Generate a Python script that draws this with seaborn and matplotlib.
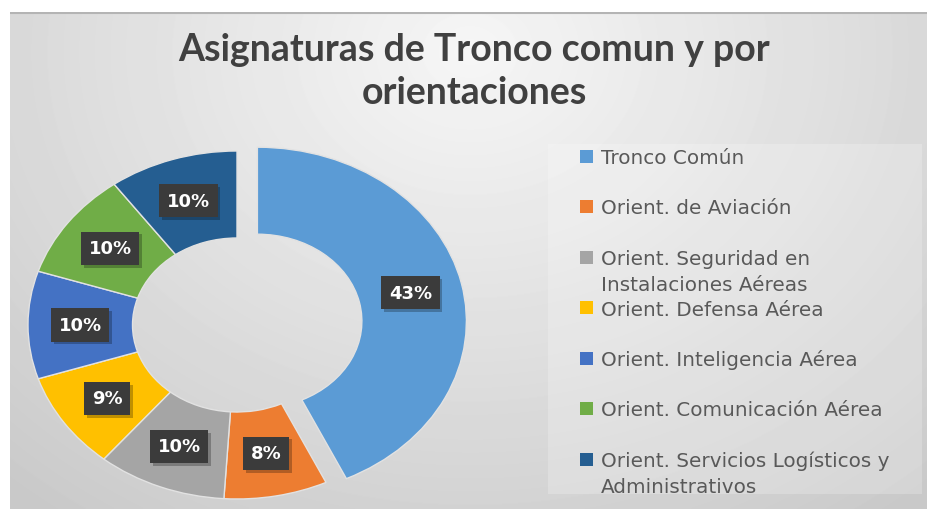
import numpy as np
import matplotlib
matplotlib.use("Agg")
import matplotlib.pyplot as plt
import matplotlib.patheffects as pe
from matplotlib.patches import Rectangle
import seaborn as sns

# Subject shares (percent) per study track
categories = [
    "Tronco Común",
    "Orient. de Aviación",
    "Orient. Seguridad en\nInstalaciones Aéreas",
    "Orient. Defensa Aérea",
    "Orient. Inteligencia Aérea",
    "Orient. Comunicación Aérea",
    "Orient. Servicios Logísticos y\nAdministrativos",
]
shares = [43, 8, 10, 9, 10, 10, 10]
explode = [0.1, 0, 0, 0, 0, 0, 0]
title_lines = ["Asignaturas de Tronco comun y por", "orientaciones"]

sns.set_theme(style="white")
palette = sns.color_palette(
    ["#5B9BD5", "#ED7D31", "#A5A5A5", "#FFC000", "#4472C4", "#70AD47", "#255E91"]
)

W, H = 927, 510
fig = plt.figure(figsize=(W / 100, H / 100), dpi=100)
fig.patch.set_facecolor("white")


def px(x, y, w, h):
    """Figure rect from top-left pixel coordinates."""
    return [x / W, 1 - (y + h) / H, w / W, h / H]


def fy(y):
    return 1 - y / H


# Shaded chart background
bx, by = 10, 13
bw, bh = W - bx, H - by
bg = fig.add_axes(px(bx, by, bw, bh))
yy, xx = np.mgrid[0:bh, 0:bw]
d = np.sqrt(((xx - 460) / 520.0) ** 2 + ((yy - 40) / 430.0) ** 2)
shade = np.clip(0.965 - 0.13 * d, 0, 1)
bg.imshow(shade, cmap="gray", vmin=0, vmax=1, aspect="auto",
          extent=(0, bw, bh, 0), interpolation="bilinear")
bg.plot([0, bw], [0.8, 0.8], color="#b4b4b4", lw=1.5)
bg.set_xlim(0, bw)
bg.set_ylim(bh, 0)
bg.axis("off")

# Legend panel
fig.add_artist(Rectangle((548 / W, fy(495)), (922 - 548) / W, (495 - 145) / H,
                         transform=fig.transFigure, fc="white", alpha=0.22, ec="none"))

# Title, one line at a time
for j, line in enumerate(title_lines):
    fig.text(474 / W, fy(50 + j * 43), line, ha="center", va="center",
             fontsize=27, fontweight="bold", family="Lato", color="#404040")

# Donut
rx, ry, lim = 209, 174, 1.2
cx, cy = 237, 326
ax = fig.add_axes(px(cx - rx * lim, cy - ry * lim, 2 * rx * lim, 2 * ry * lim))
ax.patch.set_alpha(0)
wedges, _, autotexts = ax.pie(
    shares, explode=explode, colors=palette, startangle=90, counterclock=False,
    wedgeprops=dict(width=0.5, edgecolor="#e2e2e2", linewidth=1.0),
    autopct=lambda p: f"{p:.0f}%", pctdistance=0.75,
)
ax.set_aspect("auto")
ax.set_xlim(-lim, lim)
ax.set_ylim(-lim, lim)
ax.axis("off")

for t in autotexts:
    t.set_color("white")
    t.set_fontsize(13)
    t.set_fontweight("bold")
    t.set_family("DejaVu Sans")
    t.set_bbox(dict(boxstyle="square,pad=0.42", fc="#3b3b3b", ec="none"))
    t.get_bbox_patch().set_path_effects(
        [pe.SimplePatchShadow(offset=(2, -2), shadow_rgbFace="black", alpha=0.25),
         pe.Normal()])

# Legend entries; wrapped labels continue on a second line below
for i, (lab, col) in enumerate(zip(categories, palette)):
    y = 157 + i * 50.5
    fig.add_artist(Rectangle((580 / W, fy(y + 6.5)), 13 / W, 13 / H,
                             transform=fig.transFigure, fc=col, ec="none"))
    for k, part in enumerate(lab.split("\n")):
        fig.text(601 / W, fy(y + 7 + k * 26), part, ha="left", va="baseline",
                 fontsize=14.4, family="DejaVu Sans", color="#595959")

fig.savefig("out.png", dpi=100)
